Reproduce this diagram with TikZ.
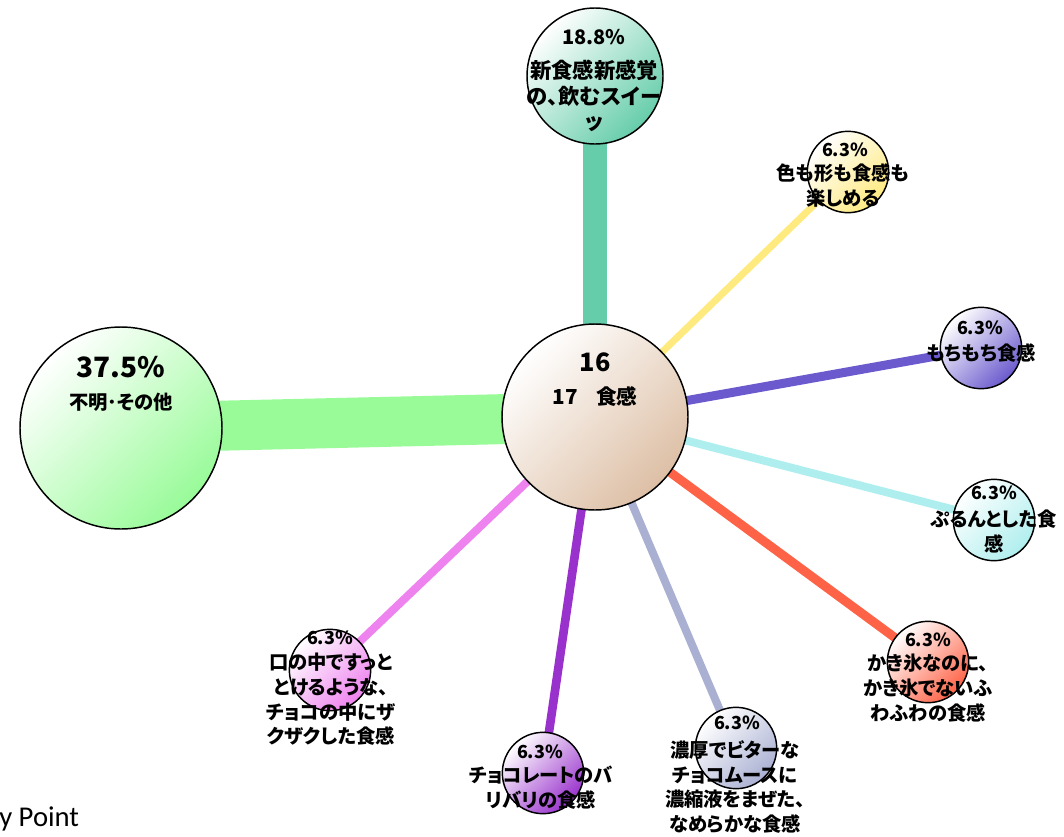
\documentclass[tikz,border=0pt]{standalone}
\usepackage{fontspec}
\newfontfamily\jp{Noto Sans CJK JP}[RawFeature=+palt]
\newfontfamily\carlito{Carlito}
\definecolor{cgreen}{HTML}{98FB98}
\definecolor{cteal}{HTML}{66CDAA}
\definecolor{cyellow}{HTML}{FFEA80}
\definecolor{cslate}{HTML}{6A5ACD}
\definecolor{cturq}{HTML}{AFEEEE}
\definecolor{ctomato}{HTML}{FF6347}
\definecolor{clav}{HTML}{AAB0D2}
\definecolor{corchid}{HTML}{9932CC}
\definecolor{cviolet}{HTML}{EE82EE}
\definecolor{ctan}{HTML}{DDBFA5}
\pgfdeclarelayer{bg}
\pgfsetlayers{bg,main}
\tikzset{
  bub/.style={circle, draw=black, line width=1.1pt, inner sep=0pt, top color=white, bottom color=#1, shading angle=45},
  small/.style={bub=#1, minimum size=61pt},
  conn/.style={draw=#1, line cap=butt},
  pct/.style={inner sep=0pt, align=center, font=\jp\bfseries\fontsize{13.5}{16}\selectfont},
  lbl/.style={inner sep=0pt, align=center, font=\jp\bfseries\fontsize{14.5}{18.5}\selectfont},
}
\begin{document}
\begin{tikzpicture}[x=0.75pt,y=-0.75pt]
\useasboundingbox (0,0) rectangle (1064,836);
% circles
\node[bub=ctan, minimum size=139.5pt] (C) at (595,417) {};
\node[bub=cgreen, minimum size=151.5pt] (L) at (121,428) {};
\node[bub=cteal, minimum size=102pt] (T) at (595,76) {};
\node[small=cyellow] (Y) at (848,172) {};
\node[small=cslate] (P) at (981,348) {};
\node[small=cturq] (Q) at (994,520) {};
\node[small=ctomato] (R) at (928,662) {};
\node[small=clav] (V) at (736,748) {};
\node[small=corchid] (O) at (543,773) {};
\node[small=cviolet] (K) at (330,670) {};
% connectors
\begin{pgfonlayer}{bg}
\draw[conn=cgreen, line width=37.5pt] (L.center) -- (C.center);
\draw[conn=cteal, line width=18pt] (T.center) -- (C.center);
\draw[conn=cyellow, line width=5.25pt] (C.center) -- (Y.center);
\draw[conn=cslate, line width=6.75pt] (C.center) -- (P.center);
\draw[conn=cturq, line width=6pt] (C.center) -- (Q.center);
\draw[conn=ctomato, line width=6.75pt] (C.center) -- (R.center);
\draw[conn=clav, line width=6pt] (C.center) -- (V.center);
\draw[conn=corchid, line width=6.5pt] (C.center) -- (O.center);
\draw[conn=cviolet, line width=6pt] (C.center) -- (K.center);
\end{pgfonlayer}
% texts
\node[pct, font=\jp\bfseries\fontsize{19}{22}\selectfont] (Cn) at (595,362) {16};
\node[pct, font=\jp\bfseries\fontsize{15.5}{18}\selectfont] (Cl) at (595,397) {17\hspace{0.9em}食感};
\node[pct, font=\jp\bfseries\fontsize{21}{24}\selectfont] (Lp) at (121,367) {37.5\%};
\node[lbl] (Ll) at (121,402) {不明･その他};
\node[pct, font=\jp\bfseries\fontsize{15}{18}\selectfont] (Tp) at (594,37) {18.8\%};
\node[lbl, font=\jp\bfseries\fontsize{16}{19}\selectfont] (Tl) at (594,96) {新食感新感覚\\の、飲むスイー\\ッ};
\node[pct] (Yp) at (845,150) {6.3\%};
\node[lbl] (Yl) at (843,185.5) {色も形も食感も\\楽しめる};
\node[pct] (Pp) at (980,328) {6.3\%};
\node[lbl] (Pl) at (981,353) {もちもち食感};
\node[pct] (Qp) at (994,493) {6.3\%};
\node[lbl] (Ql) at (994,531.5) {ぷるんとした食\\感};
\node[pct] (Rp) at (928,640) {6.3\%};
\node[lbl] (Rl) at (928,688) {かき氷なのに、\\かき氷でないふ\\わふわの食感};
\node[pct] (Vp) at (737,723) {6.3\%};
\node[lbl] (Vl) at (735,787) {濃厚でビターな\\チョコムースに\\濃縮液をまぜた、\\なめらかな食感};
\node[pct] (Op) at (540,752) {6.3\%};
\node[lbl] (Ol) at (541,787.5) {チョコレートのバ\\リバリの食感};
\node[pct] (Kp) at (330,638) {6.3\%};
\node[lbl] (Kl) at (331,699.5) {口の中ですっと\\とけるような、\\チョコの中にザ\\クザクした食感};
\node[anchor=base west, inner sep=0pt, font=\carlito\fontsize{21.5}{24}\selectfont] (kp) at (-1,826) {y Point};
\end{tikzpicture}
\end{document}
